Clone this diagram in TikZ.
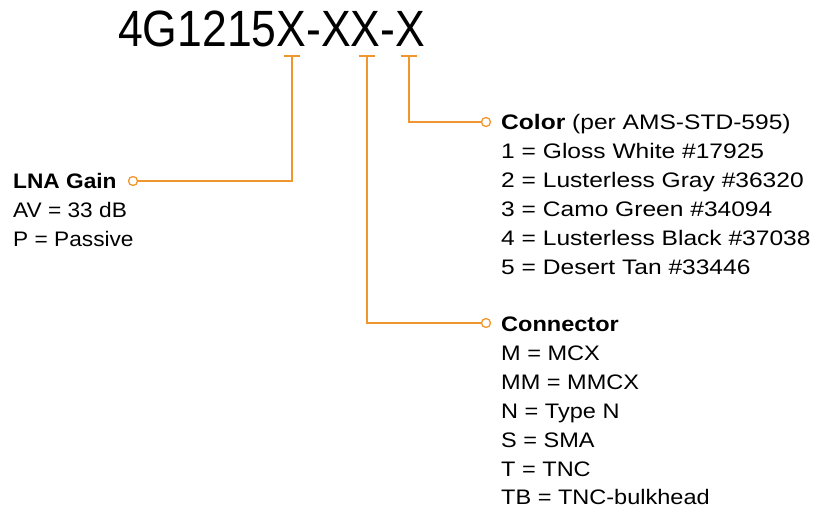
\documentclass[tikz,border=0pt]{standalone}
\usepackage{fontspec}
\setmainfont{Liberation Sans}
\definecolor{acc}{HTML}{F0962E}
\begin{document}
\begin{tikzpicture}[x=1pt,y=-1pt,
  lead/.style={draw=acc,line width=2pt},
  dot/.style={circle,draw=acc,fill=white,line width=1.3pt,minimum size=9pt,inner sep=0pt},
  info/.style={anchor=base west,inner sep=0pt,font=\fontsize{21}{29}\selectfont}]
\useasboundingbox (0,0) rectangle (817,508);
\node[anchor=base west,inner sep=0pt,xscale=0.873,font=\fontsize{51}{51}\selectfont] (title) at (118,47) {4G1215X-XX-X};
\coordinate (c1) at (292,56);
\coordinate (c2) at (367,56);
\coordinate (c3) at (409,56);
\node[dot] (d1) at (133,181) {};
\node[dot] (d2) at (486,323) {};
\node[dot] (d3) at (486,122) {};
\draw[lead] ([xshift=-8pt]c1) -- ([xshift=8pt]c1);
\draw[lead] ([xshift=-8pt]c2) -- ([xshift=8pt]c2);
\draw[lead] ([xshift=-8pt]c3) -- ([xshift=8pt]c3);
\draw[lead] (c1) |- (d1);
\draw[lead] (c2) |- (d2);
\draw[lead] (c3) |- (d3);
% LNA Gain block
\begin{scope}[every node/.append style={xscale=1.08}]
\node[info] (a1) at (13,188.5) {\textbf{LNA Gain}};
\node[info] (a2) at (13,217.5) {AV = 33 dB};
\node[info] (a3) at (13,246.5) {P = Passive};
\end{scope}
% Color block
\begin{scope}[every node/.append style={xscale=1.17}]
\node[info] (b1) at (501,129.5) {\textbf{Color} (per AMS-STD-595)};
\node[info] (b2) at (501,158.5) {1 = Gloss White \#17925};
\node[info] (b3) at (501,187.5) {2 = Lusterless Gray \#36320};
\node[info] (b4) at (501,216.5) {3 = Camo Green \#34094};
\node[info] (b5) at (501,245.5) {4 = Lusterless Black \#37038};
\node[info] (b6) at (501,274.5) {5 = Desert Tan \#33446};
\end{scope}
% Connector block
\begin{scope}[every node/.append style={xscale=1.12}]
\node[info] (e1) at (501,331) {\textbf{Connector}};
\node[info] (e2) at (501,360) {M = MCX};
\node[info] (e3) at (501,389) {MM = MMCX};
\node[info] (e4) at (501,418) {N = Type N};
\node[info] (e5) at (501,447) {S = SMA};
\node[info] (e6) at (501,476) {T = TNC};
\node[info] (e7) at (501,504) {TB = TNC-bulkhead};
\end{scope}
\end{tikzpicture}
\end{document}
